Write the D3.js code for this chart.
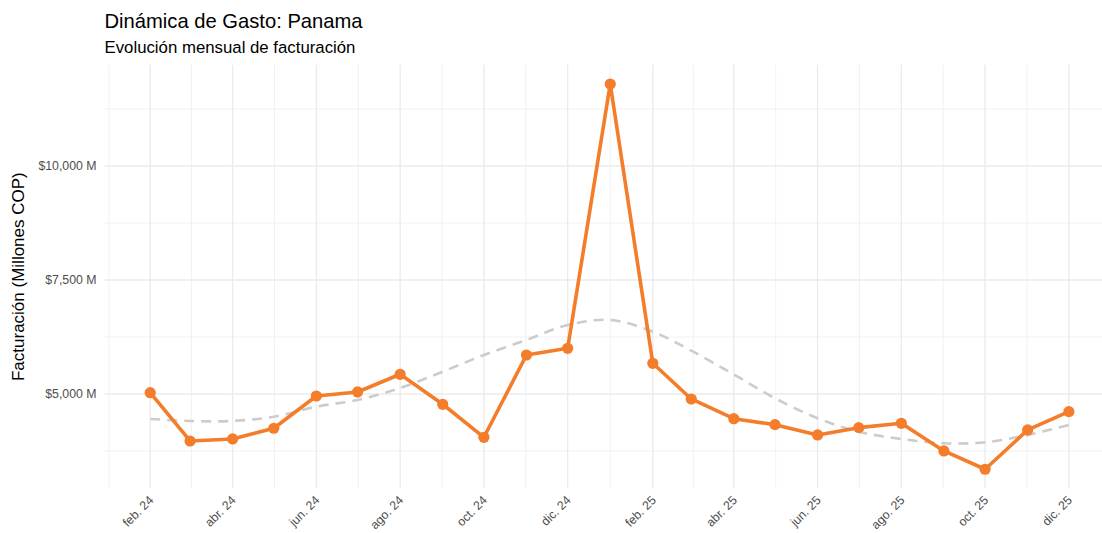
<!DOCTYPE html>
<html><head><meta charset="utf-8">
<script src="https://cdn.jsdelivr.net/npm/d3@7"></script>
<style>
html,body{margin:0;padding:0;background:#fff;}
svg{display:block;font-family:"Liberation Sans",Arial,sans-serif;}
</style></head>
<body><svg id="chart" width="1102" height="533"></svg>
<script>
const months = ["2024-02","2024-03","2024-04","2024-05","2024-06","2024-07","2024-08","2024-09","2024-10","2024-11","2024-12",
  "2025-01","2025-02","2025-03","2025-04","2025-05","2025-06","2025-07","2025-08","2025-09","2025-10","2025-11","2025-12"];
const facturacion = [5028,3969,4013,4248,4956,5044,5432,4774,4050,5855,6002,
  11798,5673,4890,4458,4327,4101,4261,4357,3750,3349,4211,4612];
const tendencia = [4452,4408,4408,4502,4721,4868,5132,5489,5855,6184,6513,
  6623,6366,5950,5428,4906,4467,4173,4013,3919,3941,4101,4320];
const xTickMonths = ["2024-02","2024-04","2024-06","2024-08","2024-10","2024-12",
  "2025-02","2025-04","2025-06","2025-08","2025-10","2025-12"];
const xTickLabels = ["feb. 24","abr. 24","jun. 24","ago. 24","oct. 24","dic. 24",
  "feb. 25","abr. 25","jun. 25","ago. 25","oct. 25","dic. 25"];
const yTicks = [5000,7500,10000];
const yTickLabels = ["$5,000 M","$7,500 M","$10,000 M"];
const yMinor = [3750,6250,8750,11250];
const titleText = "Dinámica de Gasto: Panama";
const subtitleText = "Evolución mensual de facturación";
const yTitle = "Facturación (Millones COP)";

const parse = d3.timeParse("%Y-%m");
const dates = months.map(parse);
const data = dates.map((d,i)=>({date:d, v:facturacion[i], t:tendencia[i]}));
const xMajor = xTickMonths.map(parse);

const svg = d3.select("#chart");
const panel = {left:104.3, right:1114.8, top:64.8, bottom:488.5};

const d0 = dates[0], d1 = dates[dates.length-1];
const span = d1 - d0;
const x = d3.scaleTime()
  .domain([new Date(+d0 - span*0.05), new Date(+d1 + span*0.05)])
  .range([panel.left, panel.right]);
const vmin = d3.min(facturacion), vmax = d3.max(facturacion), vr = vmax - vmin;
const y = d3.scaleLinear().domain([vmin - vr*0.05, vmax + vr*0.05]).range([panel.bottom, panel.top]);

const step = (+xMajor[1]) - (+xMajor[0]);
const xMajorExt = [new Date(+xMajor[0]-step), ...xMajor, new Date(+xMajor[xMajor.length-1]+step)];
const xMinor = [];
for (let i=0;i<xMajorExt.length-1;i++){
  xMinor.push(new Date((+xMajorExt[i] + +xMajorExt[i+1])/2));
}

const g = svg.append("g");
g.selectAll(".hminor").data(yMinor).join("line")
  .attr("x1",panel.left).attr("x2",panel.right)
  .attr("y1",d=>y(d)).attr("y2",d=>y(d))
  .attr("stroke","#ededed").attr("stroke-width",0.8);
g.selectAll(".vminor").data(xMinor).join("line")
  .attr("x1",d=>x(d)).attr("x2",d=>x(d))
  .attr("y1",panel.top).attr("y2",panel.bottom)
  .attr("stroke","#ededed").attr("stroke-width",0.8);
g.selectAll(".hmajor").data(yTicks).join("line")
  .attr("x1",panel.left).attr("x2",panel.right)
  .attr("y1",d=>y(d)).attr("y2",d=>y(d))
  .attr("stroke","#ebebeb").attr("stroke-width",1.4);
g.selectAll(".vmajor").data(xMajor).join("line")
  .attr("x1",d=>x(d)).attr("x2",d=>x(d))
  .attr("y1",panel.top).attr("y2",panel.bottom)
  .attr("stroke","#ebebeb").attr("stroke-width",1.4);

// y axis labels
svg.append("g").selectAll("text").data(yTicks).join("text")
  .attr("x",96.5).attr("y",d=>y(d)).attr("dy","0.35em")
  .attr("text-anchor","end").attr("font-size",12.3).attr("fill","#4d4d4d")
  .text((d,i)=>yTickLabels[i]);

// x axis labels
svg.append("g").selectAll("text").data(xMajor).join("text")
  .attr("transform",d=>`translate(${x(d)+4},${501}) rotate(-45)`)
  .attr("text-anchor","end")
  .attr("font-size",12.3).attr("fill","#4d4d4d")
  .text((d,i)=>xTickLabels[i]);

// y title
svg.append("text")
  .attr("transform",`translate(24,${(panel.top+panel.bottom)/2}) rotate(-90)`)
  .attr("text-anchor","middle").attr("font-size",17).attr("fill","#000")
  .text(yTitle);

// titles
svg.append("text").attr("x",104.5).attr("y",28).attr("font-size",20.2).attr("fill","#000").text(titleText);
svg.append("text").attr("x",104.5).attr("y",53).attr("font-size",16.8).attr("fill","#000").text(subtitleText);

// trend line
svg.append("path").datum(data)
  .attr("d",d3.line().x(d=>x(d.date)).y(d=>y(d.t)).curve(d3.curveCatmullRom.alpha(0.5)))
  .attr("fill","none").attr("stroke","#cccccc").attr("stroke-width",2.6)
  .attr("stroke-dasharray","10,7");

// main line
const orange = "#f47d2b";
svg.append("path").datum(data)
  .attr("d",d3.line().x(d=>x(d.date)).y(d=>y(d.v)))
  .attr("fill","none").attr("stroke",orange).attr("stroke-width",3.6)
  .attr("stroke-linejoin","round");
svg.append("g").selectAll("circle").data(data).join("circle")
  .attr("cx",d=>x(d.date)).attr("cy",d=>y(d.v)).attr("r",5.6).attr("fill",orange);
</script></body></html>
